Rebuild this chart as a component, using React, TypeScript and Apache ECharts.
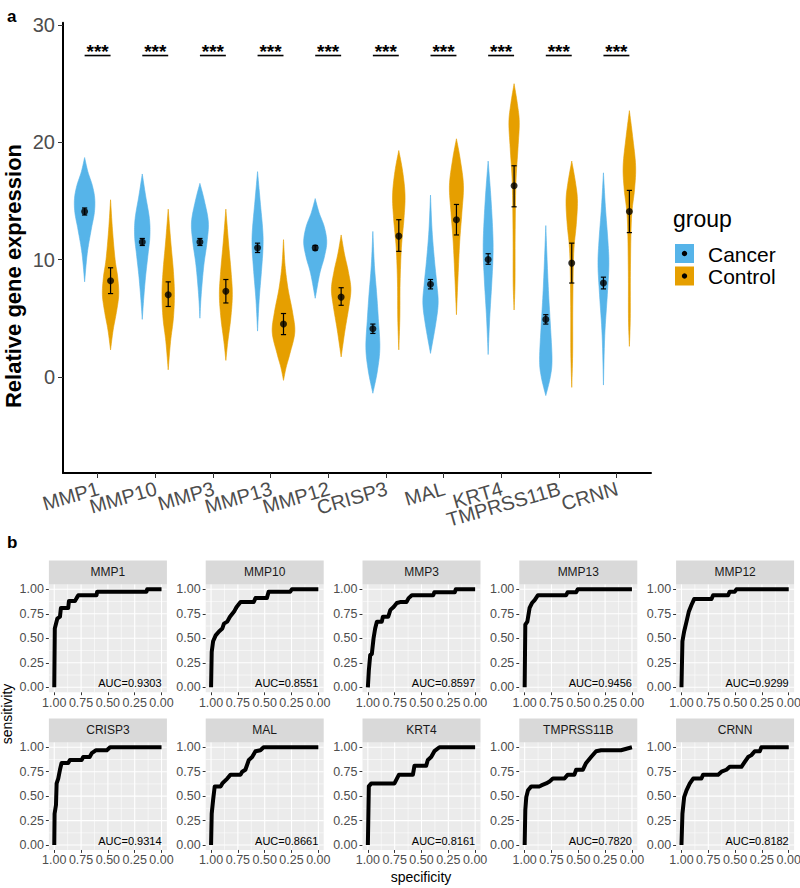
import React, { useEffect, useRef } from "react";
import * as echarts from "echarts";

// ---------- Panel a data ----------
const genes = ["MMP1", "MMP10", "MMP3", "MMP13", "MMP12", "CRISP3", "MAL", "KRT4", "TMPRSS11B", "CRNN"];
const groups = ["Cancer", "Control"];
const expressionTicks = [0, 10, 20, 30];

const cancerMean = [14.1, 11.5, 11.5, 11.0, 11.0, 4.1, 7.9, 10.0, 4.9, 8.0];
const cancerLow = [13.8, 11.2, 11.2, 10.6, 10.8, 3.7, 7.5, 9.6, 4.5, 7.5];
const cancerHigh = [14.4, 11.8, 11.8, 11.4, 11.2, 4.5, 8.3, 10.5, 5.3, 8.5];
const controlMean = [8.2, 7.0, 7.3, 4.5, 6.8, 12.0, 13.4, 16.3, 9.7, 14.1];
const controlLow = [7.1, 6.0, 6.3, 3.6, 6.1, 10.7, 12.1, 14.5, 8.0, 12.3];
const controlHigh = [9.3, 8.1, 8.3, 5.4, 7.6, 13.4, 14.7, 18.0, 11.4, 15.9];

// violin density profiles: [expression, relative half-width]
const cancerViolins = [
  [[18.7, 0], [17.5, 0.25], [16.3, 0.6], [15.2, 0.78], [14, 0.75], [12.5, 0.5], [10.5, 0.2], [8.1, 0]],
  [[17.3, 0], [15.5, 0.25], [13.5, 0.55], [12, 0.59], [10.5, 0.45], [8.5, 0.25], [6.5, 0.1], [4.9, 0]],
  [[16.5, 0], [15, 0.35], [13.2, 0.65], [11.5, 0.55], [9.5, 0.3], [7, 0.1], [5, 0]],
  [[17.5, 0], [15, 0.2], [12.5, 0.4], [11, 0.42], [9, 0.3], [6.5, 0.12], [3.9, 0]],
  [[15.2, 0], [14, 0.3], [12.8, 0.7], [11.5, 0.89], [10.2, 0.7], [8.8, 0.35], [6.7, 0]],
  [[12.4, 0], [9.5, 0.12], [7, 0.3], [5, 0.42], [2.5, 0.54], [0.5, 0.35], [-1.4, 0]],
  [[15.5, 0], [12.5, 0.12], [10, 0.3], [8, 0.48], [6.3, 0.59], [4.5, 0.4], [2, 0]],
  [[18.4, 0], [15.5, 0.2], [12.5, 0.35], [10.5, 0.38], [8, 0.28], [5, 0.12], [1.9, 0]],
  [[12.9, 0], [10, 0.1], [7, 0.22], [4.5, 0.35], [1.5, 0.48], [0, 0.35], [-1.6, 0]],
  [[17.4, 0], [14.5, 0.15], [11.5, 0.35], [9.5, 0.42], [7, 0.3], [3.5, 0.1], [-0.7, 0]],
];
const controlViolins = [
  [[15.1, 0], [12.5, 0.15], [10, 0.35], [8.5, 0.55], [7, 0.63], [5.5, 0.45], [4, 0.2], [2.3, 0]],
  [[14.3, 0], [11.5, 0.2], [9, 0.4], [7, 0.48], [5, 0.4], [3, 0.18], [0.6, 0]],
  [[14.3, 0], [11.5, 0.2], [9, 0.4], [7, 0.5], [5, 0.38], [3, 0.15], [1.4, 0]],
  [[11.7, 0], [9.5, 0.12], [7.5, 0.35], [5.5, 0.7], [3.8, 0.87], [2, 0.5], [0.8, 0.2], [-0.3, 0]],
  [[12.1, 0], [10.5, 0.25], [9, 0.55], [7.5, 0.75], [6, 0.6], [4, 0.3], [1.7, 0]],
  [[19.3, 0], [17.5, 0.3], [15.5, 0.48], [13.5, 0.4], [11, 0.2], [8, 0.1], [5, 0.08], [2.3, 0]],
  [[20.3, 0], [18.5, 0.3], [16.3, 0.54], [14, 0.42], [11.5, 0.25], [8.5, 0.12], [5.3, 0]],
  [[25, 0], [23.3, 0.25], [21.7, 0.4], [19.5, 0.3], [16.5, 0.14], [12, 0.08], [8, 0.07], [5.7, 0]],
  [[18.4, 0], [16.5, 0.3], [15, 0.44], [13, 0.35], [10.5, 0.15], [6, 0.08], [2, 0.07], [-0.9, 0]],
  [[22.7, 0], [20.5, 0.25], [18, 0.48], [16, 0.4], [13.5, 0.16], [9, 0.08], [5, 0.07], [2.6, 0]],
];
const sigMarks = ["***", "***", "***", "***", "***", "***", "***", "***", "***", "***"];
const sigLevel = 27.4;

// ---------- Panel b data ----------
const rocTicks = [0, 0.25, 0.5, 0.75, 1];
const rocMinorTicks = [0.125, 0.375, 0.625, 0.875];
const aucLabels = ["AUC=0.9303", "AUC=0.8551", "AUC=0.8597", "AUC=0.9456", "AUC=0.9299", "AUC=0.9314", "AUC=0.8661", "AUC=0.8161", "AUC=0.7820", "AUC=0.8182"];
// [specificity, sensitivity]
const rocMMP1 = [[1, 0], [0.995, 0.6], [0.972, 0.7], [0.947, 0.72], [0.938, 0.81], [0.87, 0.81], [0.863, 0.88], [0.807, 0.88], [0.792, 0.91], [0.776, 0.94], [0.606, 0.94], [0.6, 0.976], [0.14, 0.976], [0.134, 1], [0, 1]];
const rocMMP10 = [[1, 0], [0.994, 0.36], [0.981, 0.47], [0.957, 0.53], [0.926, 0.57], [0.895, 0.6], [0.88, 0.65], [0.849, 0.67], [0.824, 0.72], [0.787, 0.77], [0.762, 0.82], [0.725, 0.87], [0.602, 0.87], [0.586, 0.91], [0.48, 0.91], [0.463, 0.976], [0.262, 0.976], [0.247, 1], [0, 1]];
const rocMMP3 = [[1, 0], [0.991, 0.17], [0.978, 0.33], [0.963, 0.34], [0.947, 0.5], [0.932, 0.6], [0.916, 0.67], [0.87, 0.67], [0.86, 0.72], [0.81, 0.72], [0.79, 0.79], [0.76, 0.82], [0.73, 0.86], [0.7, 0.87], [0.64, 0.87], [0.62, 0.91], [0.59, 0.94], [0.39, 0.94], [0.38, 0.97], [0.19, 0.97], [0.18, 1], [0, 1]];
const rocMMP13 = [[1, 0], [0.994, 0.64], [0.975, 0.67], [0.954, 0.81], [0.932, 0.86], [0.907, 0.89], [0.876, 0.94], [0.613, 0.94], [0.6, 0.97], [0.52, 0.97], [0.505, 1], [0, 1]];
const rocMMP12 = [[1, 0], [0.991, 0.47], [0.975, 0.57], [0.953, 0.67], [0.932, 0.77], [0.907, 0.84], [0.882, 0.9], [0.72, 0.9], [0.705, 0.94], [0.565, 0.94], [0.55, 0.976], [0.503, 0.976], [0.488, 1], [0, 1]];
const rocCRISP3 = [[1, 0], [0.997, 0.32], [0.984, 0.41], [0.978, 0.63], [0.963, 0.68], [0.947, 0.77], [0.932, 0.84], [0.87, 0.84], [0.854, 0.87], [0.745, 0.87], [0.73, 0.9], [0.67, 0.9], [0.65, 0.94], [0.61, 0.97], [0.51, 0.97], [0.48, 1], [0, 1]];
const rocMAL = [[1, 0], [0.994, 0.32], [0.981, 0.46], [0.966, 0.6], [0.91, 0.6], [0.895, 0.63], [0.849, 0.68], [0.818, 0.72], [0.725, 0.72], [0.71, 0.75], [0.68, 0.77], [0.648, 0.87], [0.617, 0.9], [0.586, 0.96], [0.54, 0.97], [0.51, 1], [0, 1]];
const rocKRT4 = [[1, 0], [0.991, 0.6], [0.969, 0.63], [0.752, 0.63], [0.71, 0.72], [0.58, 0.72], [0.566, 0.81], [0.457, 0.81], [0.441, 0.87], [0.41, 0.9], [0.38, 0.96], [0.333, 1], [0, 1]];
const rocTMPRSS11B = [[1, 0], [0.994, 0.36], [0.985, 0.49], [0.969, 0.56], [0.938, 0.6], [0.861, 0.6], [0.845, 0.61], [0.8, 0.63], [0.768, 0.65], [0.737, 0.68], [0.629, 0.68], [0.598, 0.72], [0.536, 0.72], [0.52, 0.77], [0.458, 0.77], [0.427, 0.84], [0.381, 0.9], [0.334, 0.96], [0.288, 0.97], [0.102, 0.97], [0, 1]];
const rocCRNN = [[1, 0], [0.991, 0.32], [0.975, 0.49], [0.953, 0.56], [0.922, 0.63], [0.891, 0.68], [0.814, 0.68], [0.798, 0.72], [0.658, 0.72], [0.627, 0.75], [0.581, 0.77], [0.55, 0.8], [0.441, 0.8], [0.41, 0.85], [0.379, 0.9], [0.348, 0.92], [0.317, 0.96], [0.27, 0.96], [0.255, 1], [0, 1]];
const rocCurves = [rocMMP1, rocMMP10, rocMMP3, rocMMP13, rocMMP12, rocCRISP3, rocMAL, rocKRT4, rocTMPRSS11B, rocCRNN];

// ---------- styling / layout ----------
const FONT = "'Liberation Sans', Arial, Helvetica, sans-serif";
const BLUE = "#56B4E9";
const ORANGE = "#E69F00";
const DODGE = 0.225;
const HALF = 0.225;
const CAP = 0.045;
const Y_MIN = -8.2;
const Y_MAX = 30.2;

function densify(prof: number[][]): number[][] {
  const out: number[][] = [];
  const n = prof.length;
  for (let k = 0; k < n - 1; k++) {
    const p0 = prof[Math.max(k - 1, 0)], p1 = prof[k], p2 = prof[k + 1], p3 = prof[Math.min(k + 2, n - 1)];
    for (let s = 0; s < 8; s++) {
      const t = s / 8, t2 = t * t, t3 = t2 * t;
      const f = (a: number, b: number, c: number, d: number) =>
        0.5 * (2 * b + (-a + c) * t + (2 * a - 5 * b + 4 * c - d) * t2 + (-a + 3 * b - 3 * c + d) * t3);
      out.push([f(p0[0], p1[0], p2[0], p3[0]), Math.max(0, f(p0[1], p1[1], p2[1], p3[1]))]);
    }
  }
  out.push(prof[n - 1]);
  return out;
}

function txt(x: number, y: number, text: string, size: number, opts: any = {}) {
  return {
    type: "text",
    x, y,
    rotation: opts.rotation || 0,
    silent: true,
    style: {
      text,
      fill: opts.color || "#000",
      fontSize: size,
      fontFamily: FONT,
      fontWeight: opts.weight || "normal",
      align: opts.align || "left",
      verticalAlign: "middle",
      textAlign: opts.align || "left",
      textVerticalAlign: "middle",
    },
  };
}

function buildOption() {
  const grids: any[] = [];
  const xAxes: any[] = [];
  const yAxes: any[] = [];
  const series: any[] = [];
  const graphics: any[] = [];
  const idx = genes.map((_, i) => i);

  // ---- panel a ----
  grids.push({ left: 63, top: 22.7, width: 588, height: 450.3, outerBoundsMode: "none" });
  xAxes.push({
    gridIndex: 0, type: "value", min: -0.6, max: 9.6,
    axisLine: { show: true, onZero: false, lineStyle: { color: "#000", width: 2 } },
    axisTick: { show: true, customValues: idx, length: 5, lineStyle: { color: "#333", width: 1 } },
    axisLabel: { show: false },
    splitLine: { show: false },
  });
  yAxes.push({
    gridIndex: 0, type: "value", min: Y_MIN, max: Y_MAX,
    axisLine: { show: true, onZero: false, lineStyle: { color: "#000", width: 2 } },
    axisTick: { show: true, customValues: expressionTicks, length: 5, lineStyle: { color: "#333", width: 1 } },
    axisLabel: { customValues: expressionTicks, fontSize: 20, color: "#4d4d4d", margin: 8, fontFamily: FONT, showMinLabel: true, showMaxLabel: true },
    splitLine: { show: false },
  });

  const violinData: number[][] = [];
  groups.forEach((_, g) => idx.forEach((i) => violinData.push([i, g])));
  series.push({
    type: "custom", xAxisIndex: 0, yAxisIndex: 0, z: 2, silent: true, clip: false,
    data: violinData,
    renderItem: (params: any, api: any) => {
      const i = api.value(0), g = api.value(1);
      const prof = densify((g === 0 ? cancerViolins : controlViolins)[i]);
      const cx = i + (g === 0 ? -DODGE : DODGE);
      const right = prof.map(([v, w]) => api.coord([cx + w * HALF, v]));
      const left = prof.slice().reverse().map(([v, w]) => api.coord([cx - w * HALF, v]));
      return {
        type: "polygon",
        shape: { points: right.concat(left) },
        style: { fill: g === 0 ? BLUE : ORANGE, stroke: g === 0 ? BLUE : ORANGE, lineWidth: 0.6 },
      };
    },
  });

  const errData: number[][] = [];
  idx.forEach((i) => errData.push([i, cancerLow[i], cancerHigh[i], 0]));
  idx.forEach((i) => errData.push([i, controlLow[i], controlHigh[i], 1]));
  series.push({
    type: "custom", xAxisIndex: 0, yAxisIndex: 0, z: 3, silent: true, clip: false,
    data: errData,
    renderItem: (params: any, api: any) => {
      const cx = api.value(0) + (api.value(3) === 0 ? -DODGE : DODGE);
      const lo = api.value(1), hi = api.value(2);
      const a = api.coord([cx, lo]), b = api.coord([cx, hi]);
      const l1 = api.coord([cx - CAP, lo]), r1 = api.coord([cx + CAP, lo]);
      const l2 = api.coord([cx - CAP, hi]), r2 = api.coord([cx + CAP, hi]);
      const st = { stroke: "#000", lineWidth: 1.2 };
      return {
        type: "group",
        children: [
          { type: "line", shape: { x1: a[0], y1: a[1], x2: b[0], y2: b[1] }, style: st },
          { type: "line", shape: { x1: l1[0], y1: l1[1], x2: r1[0], y2: r1[1] }, style: st },
          { type: "line", shape: { x1: l2[0], y1: l2[1], x2: r2[0], y2: r2[1] }, style: st },
        ],
      };
    },
  });

  series.push({
    type: "scatter", xAxisIndex: 0, yAxisIndex: 0, z: 4, silent: true, symbolSize: 7,
    itemStyle: { color: "#000" },
    data: idx.map((i) => [i - DODGE, cancerMean[i]]).concat(idx.map((i) => [i + DODGE, controlMean[i]])),
  });

  series.push({
    type: "custom", xAxisIndex: 0, yAxisIndex: 0, z: 3, silent: true, clip: false,
    data: idx.map((i) => [i, sigLevel]),
    renderItem: (params: any, api: any) => {
      const i = api.value(0), lvl = api.value(1);
      const a = api.coord([i - DODGE, lvl]), b = api.coord([i + DODGE, lvl]), c = api.coord([i, lvl]);
      return {
        type: "group",
        children: [
          { type: "line", shape: { x1: a[0], y1: a[1], x2: b[0], y2: b[1] }, style: { stroke: "#000", lineWidth: 1.6 } },
          {
            type: "text", x: c[0], y: c[1] - 4,
            style: {
              text: sigMarks[i], fill: "#000", fontSize: 19, fontWeight: "bold", fontFamily: FONT,
              align: "center", verticalAlign: "middle", textAlign: "center", textVerticalAlign: "middle",
            },
          },
        ],
      };
    },
  });

  // gene tick labels (rotated, right end at tick)
  series.push({
    type: "custom", xAxisIndex: 0, yAxisIndex: 0, z: 5, silent: true, clip: false,
    data: idx.map((i) => [i, Y_MIN]),
    renderItem: (params: any, api: any) => {
      const i = api.value(0);
      const p = api.coord([i, api.value(1)]);
      return {
        type: "text", x: p[0] + 1, y: p[1] + 15, rotation: (16 * Math.PI) / 180,
        style: {
          text: genes[i], fill: "#4d4d4d", fontSize: 20, fontFamily: FONT,
          align: "right", verticalAlign: "middle", textAlign: "right", textVerticalAlign: "middle",
        },
      };
    },
  });

  // ---- panel b ----
  const colLeft = [48.9, 205.7, 362.5, 519.3, 676.1];
  const rowTop = [584.4, 742.4];
  const rowH = [107.8, 107.5];
  const panelW = 118;
  const gridLineData = rocTicks.map((v) => [v, 1]).concat(rocMinorTicks.map((v) => [v, 0]));

  rocCurves.forEach((curve, k) => {
    const gi = k + 1;
    const row = Math.floor(k / 5), col = k % 5;
    const left = colLeft[col], top = rowTop[row];
    grids.push({ left, top, width: panelW, height: rowH[row], show: true, backgroundColor: "#EBEBEB", borderWidth: 0, outerBoundsMode: "none" });
    xAxes.push({
      gridIndex: gi, type: "value", min: -0.05, max: 1.05, inverse: true,
      axisLine: { show: false, onZero: false },
      axisTick: { show: true, customValues: rocTicks, length: 3, lineStyle: { color: "#333", width: 1 } },
      axisLabel: { customValues: rocTicks, formatter: (v: number) => v.toFixed(2), fontSize: 12.5, color: "#4d4d4d", margin: 4, fontFamily: FONT, showMinLabel: true, showMaxLabel: true },
      splitLine: { show: false },
    });
    yAxes.push({
      gridIndex: gi, type: "value", min: -0.05, max: 1.05,
      axisLine: { show: false, onZero: false },
      axisTick: { show: true, customValues: rocTicks, length: 3, lineStyle: { color: "#333", width: 1 } },
      axisLabel: { customValues: rocTicks, formatter: (v: number) => v.toFixed(2), fontSize: 12.5, color: "#4d4d4d", margin: 5, fontFamily: FONT, showMinLabel: true, showMaxLabel: true },
      splitLine: { show: false },
    });
    series.push({
      type: "custom", xAxisIndex: gi, yAxisIndex: gi, z: 1, silent: true, clip: false,
      data: gridLineData,
      renderItem: (params: any, api: any) => {
        const v = api.value(0), major = api.value(1) === 1;
        const a = api.coord([v, -0.05]), b = api.coord([v, 1.05]);
        const c = api.coord([-0.05, v]), d = api.coord([1.05, v]);
        const st = { stroke: "#FFFFFF", lineWidth: major ? 1.1 : 0.55 };
        return {
          type: "group",
          children: [
            { type: "line", shape: { x1: a[0], y1: a[1], x2: b[0], y2: b[1] }, style: st },
            { type: "line", shape: { x1: c[0], y1: c[1], x2: d[0], y2: d[1] }, style: st },
          ],
        };
      },
    });
    series.push({
      type: "line", xAxisIndex: gi, yAxisIndex: gi, z: 3, silent: true,
      data: curve, showSymbol: false, symbol: "none",
      lineStyle: { color: "#000", width: 4, join: "round", cap: "butt" },
    });
    series.push({
      type: "custom", xAxisIndex: gi, yAxisIndex: gi, z: 4, silent: true, clip: false,
      data: [[0, 0.04]],
      renderItem: (params: any, api: any) => {
        const p = api.coord([api.value(0), api.value(1)]);
        return {
          type: "text", x: p[0], y: p[1],
          style: {
            text: aucLabels[k], fill: "#000", fontSize: 11, fontFamily: FONT,
            align: "right", verticalAlign: "middle", textAlign: "right", textVerticalAlign: "middle",
          },
        };
      },
    });
    // strip
    graphics.push({
      type: "rect", silent: true,
      shape: { x: left, y: top - 24, width: panelW, height: 24 },
      style: { fill: "#D9D9D9" },
    });
    graphics.push(txt(left + panelW / 2, top - 12, genes[k], 12, { align: "center", color: "#1A1A1A" }));
  });

  // ---- titles, labels, legend ----
  graphics.push(txt(7, 16, "a", 17, { weight: "bold" }));
  graphics.push(txt(7, 542, "b", 17, { weight: "bold" }));
  graphics.push(txt(13, 276, "Relative gene expression", 22, { weight: "bold", align: "center", rotation: Math.PI / 2 }));
  graphics.push(txt(6.5, 714, "sensitivity", 14, { align: "center", rotation: Math.PI / 2 }));
  graphics.push(txt(421, 877, "specificity", 14, { align: "center" }));

  graphics.push(txt(673, 219, "group", 23));
  [BLUE, ORANGE].forEach((c, g) => {
    const y = 244 + g * 22.5;
    graphics.push({ type: "rect", silent: true, shape: { x: 675, y, width: 19, height: 19 }, style: { fill: c } });
    graphics.push({ type: "circle", silent: true, shape: { cx: 684.5, cy: y + 9.5, r: 2.7 }, style: { fill: "#000" } });
    graphics.push(txt(708, y + 10, groups[g], 21));
  });

  return {
    animation: false,
    backgroundColor: "#FFFFFF",
    textStyle: { fontFamily: FONT },
    grid: grids,
    xAxis: xAxes,
    yAxis: yAxes,
    series,
    graphic: { elements: graphics },
  };
}

export default function App() {
  const ref = useRef<HTMLDivElement>(null);
  useEffect(() => {
    if (!ref.current) return;
    const chart = echarts.init(ref.current, null, { renderer: "svg" });
    chart.setOption(buildOption() as any);
    return () => chart.dispose();
  }, []);
  return (
    <div
      ref={ref}
      style={{ position: "fixed", left: 0, top: 0, width: 800, height: 888, background: "#fff" }}
    />
  );
}
